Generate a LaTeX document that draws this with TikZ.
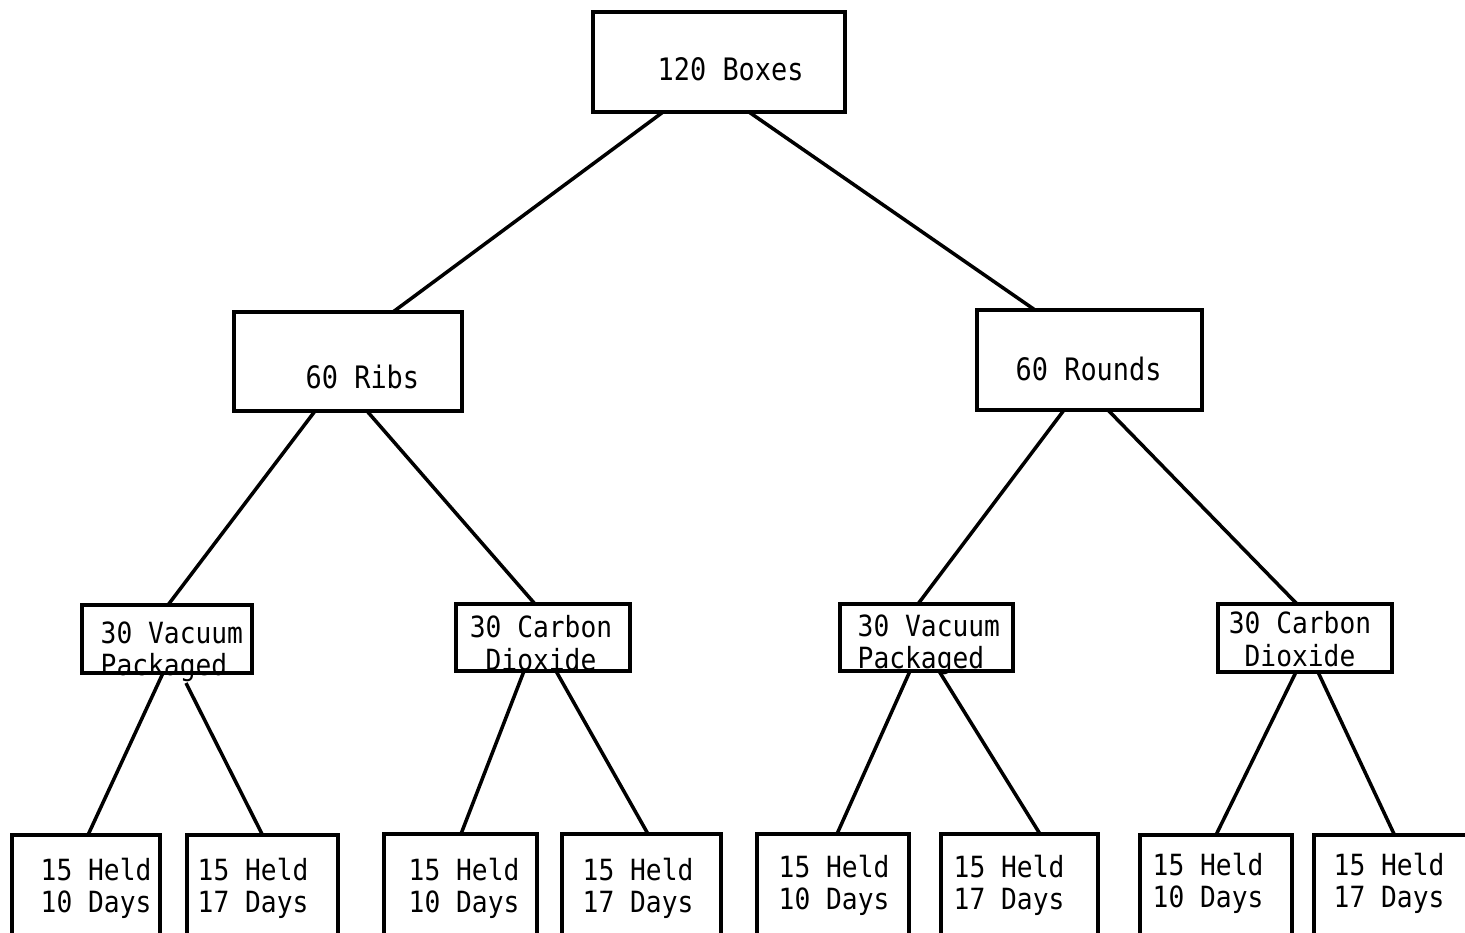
\documentclass[tikz,border=0pt]{standalone}
\usepackage{fontspec}
\usepackage{tikz}
\usetikzlibrary{calc}
\newfontfamily\typefont[FakeStretch=0.9]{DejaVu Sans Mono}
\newfontfamily\widefont[FakeStretch=0.87]{DejaVu Sans Mono}

\begin{document}
\begin{tikzpicture}[x=0.01cm, y=-0.01cm,
  box/.style={rectangle, draw=black, line width=0.9pt, outer sep=0pt, inner sep=0pt},
  leaf/.style={box, minimum height=1.10cm},
  lbl/.style={inner sep=0pt, font=\typefont\fontsize{8.3}{9.2}\selectfont},
  biglbl/.style={inner sep=0pt, anchor=base west, font=\widefont\fontsize{8.8}{10}\selectfont},
  link/.style={line width=1pt}
]
\useasboundingbox (0,0) rectangle (1465,932);
\fill[white] (0,0) rectangle (1465,932);

% Top level
\node[box, minimum width=2.52cm, minimum height=1.00cm] (all) at (719,62) {};
\node[biglbl] (all-t) at (657,80) {120 Boxes};

% Cuts
\node[box, minimum width=2.28cm, minimum height=0.99cm] (ribs) at (348,361.5) {};
\node[biglbl] (ribs-t) at (305,388) {60 Ribs};
\node[box, minimum width=2.25cm, minimum height=1.00cm] (rounds) at (1089.5,360) {};
\node[biglbl] (rounds-t) at (1015,380) {60 Rounds};

% Packaging
\node[box, minimum width=1.70cm, minimum height=0.68cm] (vpl) at (167,639) {};
\node[lbl, anchor=north west, align=left] (vpl-t) at (100,621) {30 Vacuum\\Packaged};
\node[box, minimum width=1.74cm, minimum height=0.67cm] (cdl) at (543,637.5) {};
\node[lbl, anchor=north, align=center] (cdl-t) at (541,615) {30 Carbon\\Dioxide};
\node[box, minimum width=1.73cm, minimum height=0.67cm] (vpr) at (926.5,637.5) {};
\node[lbl, anchor=north west, align=left] (vpr-t) at (857,614) {30 Vacuum\\Packaged};
\node[box, minimum width=1.74cm, minimum height=0.68cm] (cdr) at (1305,638) {};
\node[lbl, anchor=north, align=center] (cdr-t) at (1300,611) {30 Carbon\\Dioxide};

% Holding times
\node[leaf, minimum width=1.48cm] (h1) at (86,890) {};
\node[lbl, anchor=north west, align=left] (h1-t) at (40,857) {15 Held\\10 Days};
\node[leaf, minimum width=1.51cm] (h2) at (262.5,890) {};
\node[lbl, anchor=north west, align=left] (h2-t) at (197,857) {15 Held\\17 Days};
\node[leaf, minimum width=1.53cm] (h3) at (460.5,889) {};
\node[lbl, anchor=north west, align=left] (h3-t) at (408,857) {15 Held\\10 Days};
\node[leaf, minimum width=1.59cm] (h4) at (641.5,889) {};
\node[lbl, anchor=north west, align=left] (h4-t) at (582,857) {15 Held\\17 Days};
\node[leaf, minimum width=1.52cm] (h5) at (833,889) {};
\node[lbl, anchor=north west, align=left] (h5-t) at (778,854) {15 Held\\10 Days};
\node[leaf, minimum width=1.57cm] (h6) at (1019.5,889) {};
\node[lbl, anchor=north west, align=left] (h6-t) at (953,854) {15 Held\\17 Days};
\node[leaf, minimum width=1.52cm] (h7) at (1216,890) {};
\node[lbl, anchor=north west, align=left] (h7-t) at (1152,852) {15 Held\\10 Days};
\node[leaf, minimum width=1.61cm] (h8) at (1394.5,890) {};
\node[lbl, anchor=north west, align=left] (h8-t) at (1333,852) {15 Held\\17 Days};

% Links
\draw[link] ($(all.south)+(-56,0)$) -- ($(ribs.north)+(45,0)$);
\draw[link] ($(all.south)+(30,0)$) -- ($(rounds.north)+(-54.5,0)$);
\draw[link] ($(ribs.south)+(-33,0)$) -- ($(vpl.north)+(1,0)$);
\draw[link] ($(ribs.south)+(19,0)$) -- ($(cdl.north)+(-8,0)$);
\draw[link] ($(rounds.south)+(-25.5,0)$) -- ($(vpr.north)+(-8.5,0)$);
\draw[link] ($(rounds.south)+(18.5,0)$) -- ($(cdr.north)+(-8,0)$);
\draw[link] ($(vpl.south)+(-4,0)$) -- ($(h1.north)+(2,0)$);
\draw[link] ($(vpl.south)+(19,10)$) -- ($(h2.north)+(0,0)$);
\draw[link] ($(cdl.south)+(-19,0)$) -- ($(h3.north)+(0.5,0)$);
\draw[link] ($(cdl.south)+(13,0)$) -- ($(h4.north)+(6.5,0)$);
\draw[link] ($(vpr.south)+(-16.5,0)$) -- ($(h5.north)+(4,0)$);
\draw[link] ($(vpr.south)+(12.5,0)$) -- ($(h6.north)+(20.5,0)$);
\draw[link] ($(cdr.south)+(-9,0)$) -- ($(h7.north)+(0,0)$);
\draw[link] ($(cdr.south)+(13,0)$) -- ($(h8.north)+(0,0)$);
\end{tikzpicture}
\end{document}
